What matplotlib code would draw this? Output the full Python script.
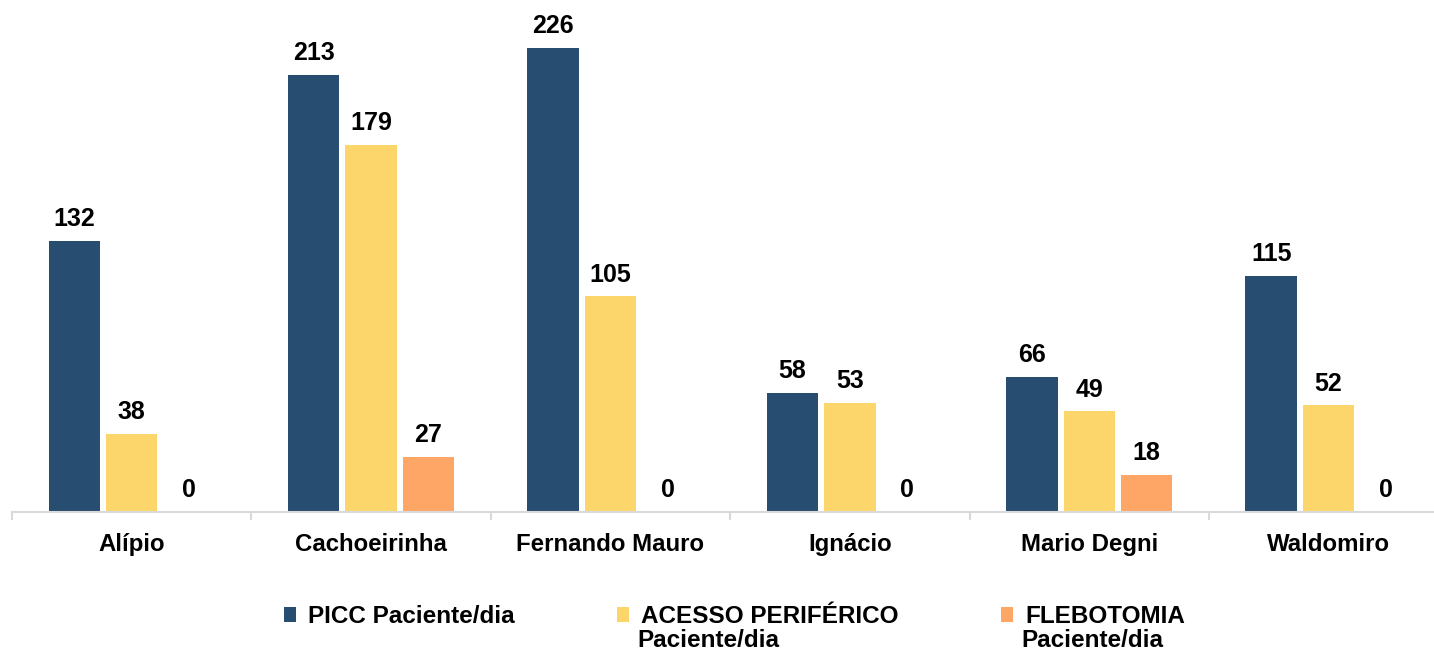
import numpy as np
import matplotlib.pyplot as plt
from matplotlib.patches import Patch

plt.rcParams['font.family'] = ['Liberation Sans', 'DejaVu Sans']

# =========================
# DATA
# =========================
hospitais = ['Alípio', 'Cachoeirinha', 'Fernando Mauro', 'Ignácio', 'Mario Degni', 'Waldomiro']
picc = [132, 213, 226, 58, 66, 115]
acesso = [38, 179, 105, 53, 49, 52]
flebotomia = [0, 27, 0, 0, 18, 0]

series_first = ['PICC Paciente/dia', 'ACESSO PERIFÉRICO', 'FLEBOTOMIA']
series_second = ['', 'Paciente/dia', 'Paciente/dia']
colors = ['#274E71', '#FCD66A', '#FDA665']

W, H = 1434, 652

# =========================
# PLOT
# =========================
fig = plt.figure(figsize=(W / 100, H / 100), dpi=100)
ax = fig.add_axes([12 / W, 140 / H, 1422 / W, 512 / H])

x = np.arange(len(hospitais))
w = 0.215
off = 0.24

for i, (vals, col) in enumerate(zip([picc, acesso, flebotomia], colors)):
    bars = ax.bar(x + (i - 1) * off, vals, width=w, color=col)
    ax.bar_label(bars, labels=[str(v) for v in vals], padding=7,
                 fontsize=18, fontweight='bold', color='black')

for s in ['top', 'right', 'left']:
    ax.spines[s].set_visible(False)
ax.spines['bottom'].set_color('#D9D9D9')
ax.spines['bottom'].set_linewidth(1.5)

ax.set_yticks([])
ax.set_xticks(x)
ax.set_xticklabels(hospitais, fontsize=17.3, fontweight='bold')
ax.tick_params(axis='x', which='major', length=0, pad=15)
ax.set_xticks(np.arange(-0.5, 6, 1), minor=True)
ax.tick_params(axis='x', which='minor', length=6, color='#D9D9D9', width=1.5)

# limites depois dos ticks (set_xticks expande a vista)
ax.set_xlim(-0.5, 5.44)
ax.set_ylim(0, 249.4)

# =========================
# LEGENDA
# =========================
handles = [Patch(facecolor=c) for c in colors]
leg = fig.legend(handles, series_first, loc='upper left', bbox_to_anchor=(284 / W, 1 - 605 / H),
                 ncol=3, frameon=False, fontsize=17.5, handlelength=0.5, handleheight=0.55,
                 handletextpad=0.5, columnspacing=4.2, borderpad=0, borderaxespad=0)
for t in leg.get_texts():
    t.set_fontweight('bold')

fig.canvas.draw()
for t, second in zip(leg.get_texts(), series_second):
    if not second:
        continue
    bb = t.get_window_extent()
    fig.text((bb.x0 - 4) / W, (bb.y0 + bb.y1) / 2 / H - 24 / H, second,
             fontsize=17.5, fontweight='bold', va='center', ha='left')

plt.savefig('out.png', dpi=100)
